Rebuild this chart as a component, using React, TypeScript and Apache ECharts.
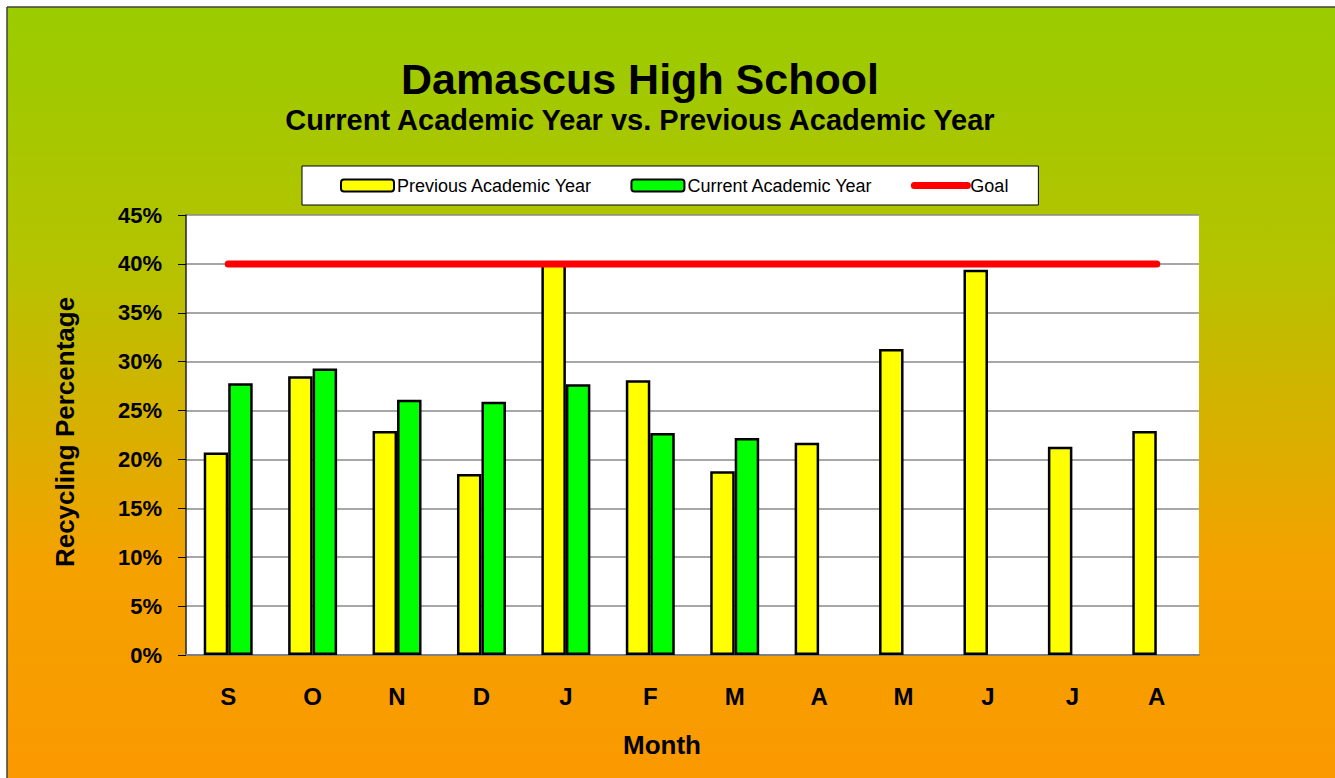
import React, { useEffect, useRef } from 'react';
import * as echarts from 'echarts';

const months = ['S', 'O', 'N', 'D', 'J', 'F', 'M', 'A', 'M', 'J', 'J', 'A'];
const previousYear = [20.7, 28.5, 22.9, 18.5, 40.0, 28.1, 18.8, 21.7, 31.3, 39.4, 21.3, 22.9];
const currentYear = [27.8, 29.3, 26.1, 25.9, 27.7, 22.7, 22.2, null, null, null, null, null];
const goal = [40, 40, 40, 40, 40, 40, 40, 40, 40, 40, 40, 40];
const yMin = 0;
const yMax = 45;
const yStep = 5;

const FONT = "'Liberation Sans', Arial, sans-serif";

export default function App() {
  const ref = useRef<HTMLDivElement>(null);
  useEffect(() => {
    if (!ref.current) return;
    const chart = echarts.init(ref.current, null, { renderer: 'svg' });
    chart.setOption({
      animation: false,
      backgroundColor: new echarts.graphic.LinearGradient(0, 0, 0, 1, [
        { offset: 0, color: '#99CC00' },
        { offset: 0.334, color: '#B4C300' },
        { offset: 0.527, color: '#D4B200' },
        { offset: 0.72, color: '#F4A200' },
        { offset: 1, color: '#FA9900' },
      ]),
      graphic: [
        { type: 'rect', shape: { x: 0, y: 0, width: 1335, height: 7 }, style: { fill: '#fff' } },
        { type: 'rect', shape: { x: 0, y: 0, width: 7, height: 778 }, style: { fill: '#fff' } },
        { type: 'line', shape: { x1: 7, y1: 7, x2: 1335, y2: 7 }, style: { stroke: '#404040', lineWidth: 1.5 } },
        { type: 'line', shape: { x1: 7, y1: 7, x2: 7, y2: 778 }, style: { stroke: '#404040', lineWidth: 1.5 } },
        {
          type: 'text', x: 640, y: 79,
          style: { text: 'Damascus High School', fontFamily: FONT, fontWeight: 'bold', fontSize: 43, fill: '#000', align: 'center', verticalAlign: 'middle' },
        },
        {
          type: 'text', x: 640, y: 120,
          style: { text: 'Current Academic Year vs. Previous Academic Year', fontFamily: FONT, fontWeight: 'bold', fontSize: 29, fill: '#000', align: 'center', verticalAlign: 'middle' },
        },
        {
          type: 'text', x: 662, y: 745,
          style: { text: 'Month', fontFamily: FONT, fontWeight: 'bold', fontSize: 26, fill: '#000', align: 'center', verticalAlign: 'middle' },
        },
        {
          type: 'text', x: 65, y: 432, rotation: Math.PI / 2,
          style: { text: 'Recycling Percentage', fontFamily: FONT, fontWeight: 'bold', fontSize: 26, fill: '#000', align: 'center', verticalAlign: 'middle' },
        },
      ],
      legend: {
        left: 302,
        top: 166,
        padding: [9, 30, 9, 38],
        itemGap: 38,
        itemWidth: 53,
        itemHeight: 12,
        backgroundColor: '#fff',
        borderColor: '#000',
        borderWidth: 1,
        borderRadius: 0,
        textStyle: { fontFamily: FONT, fontSize: 18, color: '#000', lineHeight: 21, padding: [0, 0, 0, -2] },
        data: [
          { name: 'Previous Academic Year' },
          { name: 'Current Academic Year' },
          { name: 'Goal', itemStyle: { opacity: 0 }, lineStyle: { color: '#FF0000', width: 7, cap: 'round' } },
        ],
      },
      grid: {
        left: 186,
        top: 215,
        right: 136,
        bottom: 123,
        show: true,
        backgroundColor: '#fff',
        borderWidth: 0,
      },
      xAxis: {
        type: 'category',
        data: months,
        axisLine: { show: true, lineStyle: { color: '#808080', width: 2 } },
        axisTick: { show: false },
        axisLabel: { fontFamily: FONT, fontWeight: 'bold', fontSize: 24, color: '#000', margin: 29 },
      },
      yAxis: {
        type: 'value',
        min: yMin,
        max: yMax,
        interval: yStep,
        axisLine: { show: true, lineStyle: { color: '#222', width: 1.5 } },
        axisTick: { show: true, length: 8, lineStyle: { color: '#000', width: 1 } },
        axisLabel: { fontFamily: FONT, fontWeight: 'bold', fontSize: 22, color: '#000', margin: 24, formatter: '{value}%' },
        splitLine: { show: true, lineStyle: { color: '#8a8a8a', width: 1.5 } },
      },
      series: [
        {
          name: 'Previous Academic Year',
          type: 'bar',
          data: previousYear,
          barWidth: '29%',
          barGap: '0%',
          itemStyle: { color: '#FFFF00', borderColor: '#000', borderWidth: 2.5 },
        },
        {
          name: 'Current Academic Year',
          type: 'bar',
          data: currentYear,
          barWidth: '29%',
          barGap: '0%',
          itemStyle: { color: '#00FF00', borderColor: '#000', borderWidth: 2.5 },
        },
        {
          name: 'Goal',
          type: 'line',
          data: goal,
          symbol: 'none',
          z: 5,
          itemStyle: { color: '#FF0000' },
          lineStyle: { color: '#FF0000', width: 7, cap: 'round' },
        },
      ],
    });
    return () => chart.dispose();
  }, []);
  return (
    <div style={{ position: 'fixed', left: 0, top: 0, width: 1335, height: 778, overflow: 'hidden' }}>
      <div ref={ref} style={{ width: 1335, height: 778 }} />
    </div>
  );
}
